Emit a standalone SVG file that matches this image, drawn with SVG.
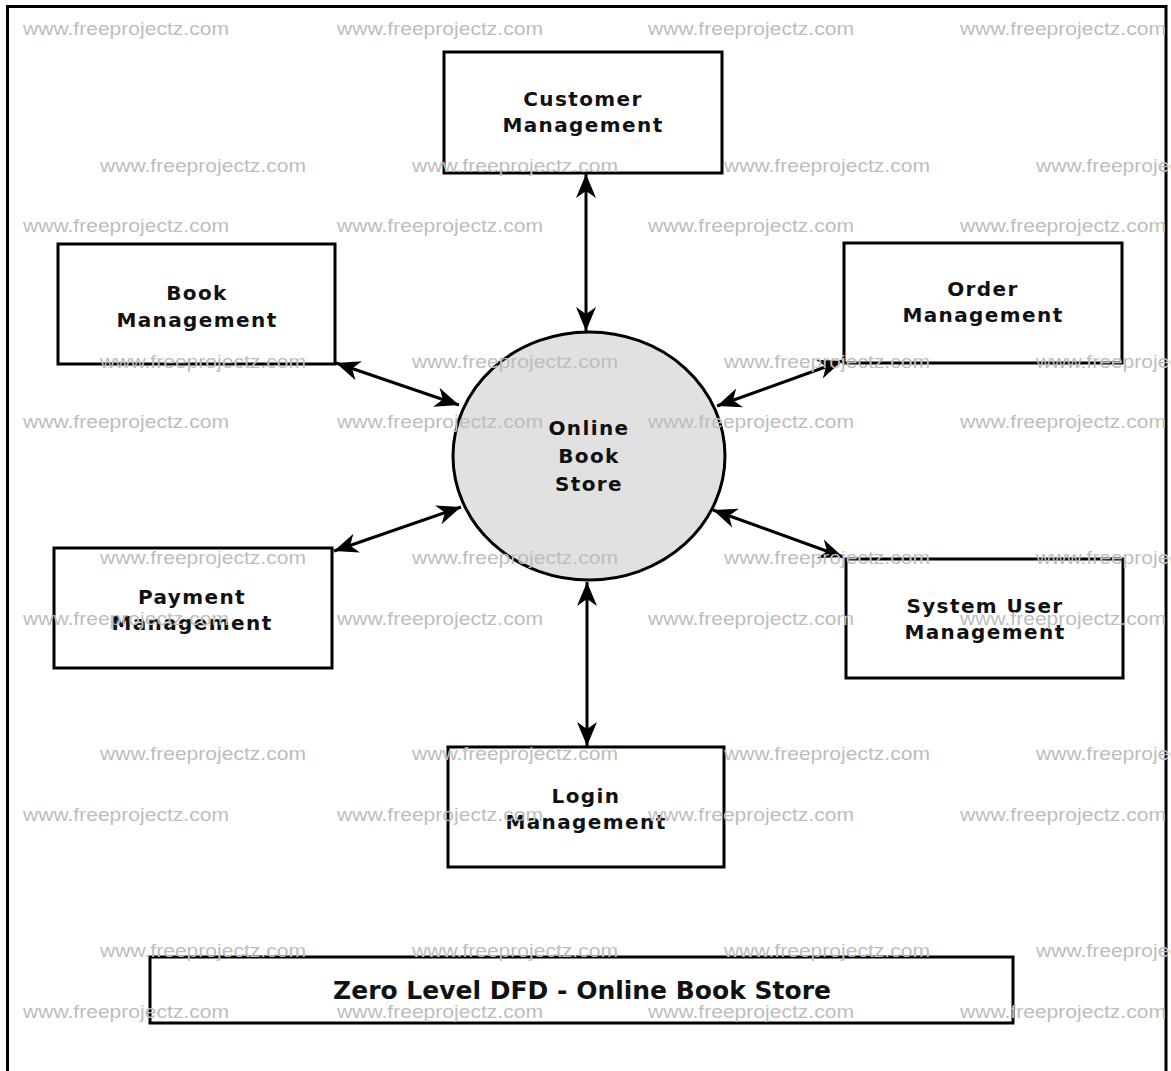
<svg xmlns="http://www.w3.org/2000/svg" width="1171" height="1071" viewBox="0 0 1171 1071">
<style>
.box{fill:#fff;stroke:#000;stroke-width:3}
.proc{fill:#e1e1e1;stroke:#000;stroke-width:3}
.lbl{font-family:"DejaVu Sans","Liberation Sans",sans-serif;font-weight:bold;font-size:20px;letter-spacing:1.4px;fill:#111;text-anchor:middle}
.title{font-family:"DejaVu Sans","Liberation Sans",sans-serif;font-weight:bold;font-size:25px;fill:#111;text-anchor:middle}
.flow{fill:none;stroke:#000;stroke-width:3;marker-start:url(#ah);marker-end:url(#ah)}
.wm{font-family:"Liberation Sans",Arial,sans-serif;font-size:18px;fill:#bdbdbd}
</style>
<defs>
<marker id="ah" markerUnits="userSpaceOnUse" markerWidth="26" markerHeight="22" viewBox="0 -11 26 22" refX="24" refY="0" orient="auto-start-reverse">
<path d="M0,-10 L24,0 L0,10 L7,0 Z" fill="#000"/>
</marker>
</defs>
<rect x="0" y="0" width="1171" height="1071" fill="#fff"/>
<rect x="7.5" y="6.5" width="1158.5" height="1100" fill="none" stroke="#000" stroke-width="3"/>

<g id="connectors">
<line class="flow" x1="586" y1="174" x2="586" y2="331"/>
<line class="flow" x1="336" y1="363" x2="459" y2="405"/>
<line class="flow" x1="842" y1="361" x2="717" y2="406"/>
<line class="flow" x1="334" y1="551" x2="461" y2="507"/>
<line class="flow" x1="713" y1="510" x2="843" y2="557"/>
<line class="flow" x1="587" y1="582" x2="587" y2="746"/>
</g>

<g id="online-book-store">
<ellipse class="proc" cx="589" cy="456" rx="136" ry="124"/>
<text class="lbl" x="589" y="435">Online</text>
<text class="lbl" x="589" y="463">Book</text>
<text class="lbl" x="589" y="491">Store</text>
</g>
<g id="customer-management">
<rect class="box" x="444" y="52" width="278" height="121"/>
<text class="lbl" x="583" y="106">Customer</text>
<text class="lbl" x="583" y="132">Management</text>
</g>
<g id="book-management">
<rect class="box" x="58" y="244" width="277" height="120"/>
<text class="lbl" x="197" y="300">Book</text>
<text class="lbl" x="197" y="327">Management</text>
</g>
<g id="order-management">
<rect class="box" x="844" y="243" width="278" height="120"/>
<text class="lbl" x="983" y="296">Order</text>
<text class="lbl" x="983" y="322">Management</text>
</g>
<g id="payment-management">
<rect class="box" x="54" y="548" width="278" height="120"/>
<text class="lbl" x="192" y="604">Payment</text>
<text class="lbl" x="192" y="630">Management</text>
</g>
<g id="system-user-management">
<rect class="box" x="846" y="559" width="277" height="119"/>
<text class="lbl" x="985" y="613">System User</text>
<text class="lbl" x="985" y="639">Management</text>
</g>
<g id="login-management">
<rect class="box" x="448" y="747" width="276" height="120"/>
<text class="lbl" x="586" y="803">Login</text>
<text class="lbl" x="586" y="829">Management</text>
</g>
<g id="title">
<rect class="box" x="150" y="957" width="863" height="66"/>
<text class="title" x="582" y="999">Zero Level DFD - Online Book Store</text>
</g>

<g id="watermarks">
<text class="wm" x="23" y="35" textLength="206" lengthAdjust="spacingAndGlyphs">www.freeprojectz.com</text>
<text class="wm" x="337" y="35" textLength="206" lengthAdjust="spacingAndGlyphs">www.freeprojectz.com</text>
<text class="wm" x="648" y="35" textLength="206" lengthAdjust="spacingAndGlyphs">www.freeprojectz.com</text>
<text class="wm" x="960" y="35" textLength="206" lengthAdjust="spacingAndGlyphs">www.freeprojectz.com</text>
<text class="wm" x="100" y="172" textLength="206" lengthAdjust="spacingAndGlyphs">www.freeprojectz.com</text>
<text class="wm" x="412" y="172" textLength="206" lengthAdjust="spacingAndGlyphs">www.freeprojectz.com</text>
<text class="wm" x="724" y="172" textLength="206" lengthAdjust="spacingAndGlyphs">www.freeprojectz.com</text>
<text class="wm" x="1036" y="172" textLength="206" lengthAdjust="spacingAndGlyphs">www.freeprojectz.com</text>
<text class="wm" x="23" y="232" textLength="206" lengthAdjust="spacingAndGlyphs">www.freeprojectz.com</text>
<text class="wm" x="337" y="232" textLength="206" lengthAdjust="spacingAndGlyphs">www.freeprojectz.com</text>
<text class="wm" x="648" y="232" textLength="206" lengthAdjust="spacingAndGlyphs">www.freeprojectz.com</text>
<text class="wm" x="960" y="232" textLength="206" lengthAdjust="spacingAndGlyphs">www.freeprojectz.com</text>
<text class="wm" x="100" y="368" textLength="206" lengthAdjust="spacingAndGlyphs">www.freeprojectz.com</text>
<text class="wm" x="412" y="368" textLength="206" lengthAdjust="spacingAndGlyphs">www.freeprojectz.com</text>
<text class="wm" x="724" y="368" textLength="206" lengthAdjust="spacingAndGlyphs">www.freeprojectz.com</text>
<text class="wm" x="1036" y="368" textLength="206" lengthAdjust="spacingAndGlyphs">www.freeprojectz.com</text>
<text class="wm" x="23" y="428" textLength="206" lengthAdjust="spacingAndGlyphs">www.freeprojectz.com</text>
<text class="wm" x="337" y="428" textLength="206" lengthAdjust="spacingAndGlyphs">www.freeprojectz.com</text>
<text class="wm" x="648" y="428" textLength="206" lengthAdjust="spacingAndGlyphs">www.freeprojectz.com</text>
<text class="wm" x="960" y="428" textLength="206" lengthAdjust="spacingAndGlyphs">www.freeprojectz.com</text>
<text class="wm" x="100" y="564" textLength="206" lengthAdjust="spacingAndGlyphs">www.freeprojectz.com</text>
<text class="wm" x="412" y="564" textLength="206" lengthAdjust="spacingAndGlyphs">www.freeprojectz.com</text>
<text class="wm" x="724" y="564" textLength="206" lengthAdjust="spacingAndGlyphs">www.freeprojectz.com</text>
<text class="wm" x="1036" y="564" textLength="206" lengthAdjust="spacingAndGlyphs">www.freeprojectz.com</text>
<text class="wm" x="23" y="625" textLength="206" lengthAdjust="spacingAndGlyphs">www.freeprojectz.com</text>
<text class="wm" x="337" y="625" textLength="206" lengthAdjust="spacingAndGlyphs">www.freeprojectz.com</text>
<text class="wm" x="648" y="625" textLength="206" lengthAdjust="spacingAndGlyphs">www.freeprojectz.com</text>
<text class="wm" x="960" y="625" textLength="206" lengthAdjust="spacingAndGlyphs">www.freeprojectz.com</text>
<text class="wm" x="100" y="760" textLength="206" lengthAdjust="spacingAndGlyphs">www.freeprojectz.com</text>
<text class="wm" x="412" y="760" textLength="206" lengthAdjust="spacingAndGlyphs">www.freeprojectz.com</text>
<text class="wm" x="724" y="760" textLength="206" lengthAdjust="spacingAndGlyphs">www.freeprojectz.com</text>
<text class="wm" x="1036" y="760" textLength="206" lengthAdjust="spacingAndGlyphs">www.freeprojectz.com</text>
<text class="wm" x="23" y="821" textLength="206" lengthAdjust="spacingAndGlyphs">www.freeprojectz.com</text>
<text class="wm" x="337" y="821" textLength="206" lengthAdjust="spacingAndGlyphs">www.freeprojectz.com</text>
<text class="wm" x="648" y="821" textLength="206" lengthAdjust="spacingAndGlyphs">www.freeprojectz.com</text>
<text class="wm" x="960" y="821" textLength="206" lengthAdjust="spacingAndGlyphs">www.freeprojectz.com</text>
<text class="wm" x="100" y="957" textLength="206" lengthAdjust="spacingAndGlyphs">www.freeprojectz.com</text>
<text class="wm" x="412" y="957" textLength="206" lengthAdjust="spacingAndGlyphs">www.freeprojectz.com</text>
<text class="wm" x="724" y="957" textLength="206" lengthAdjust="spacingAndGlyphs">www.freeprojectz.com</text>
<text class="wm" x="1036" y="957" textLength="206" lengthAdjust="spacingAndGlyphs">www.freeprojectz.com</text>
<text class="wm" x="23" y="1018" textLength="206" lengthAdjust="spacingAndGlyphs">www.freeprojectz.com</text>
<text class="wm" x="337" y="1018" textLength="206" lengthAdjust="spacingAndGlyphs">www.freeprojectz.com</text>
<text class="wm" x="648" y="1018" textLength="206" lengthAdjust="spacingAndGlyphs">www.freeprojectz.com</text>
<text class="wm" x="960" y="1018" textLength="206" lengthAdjust="spacingAndGlyphs">www.freeprojectz.com</text>
</g>
</svg>
